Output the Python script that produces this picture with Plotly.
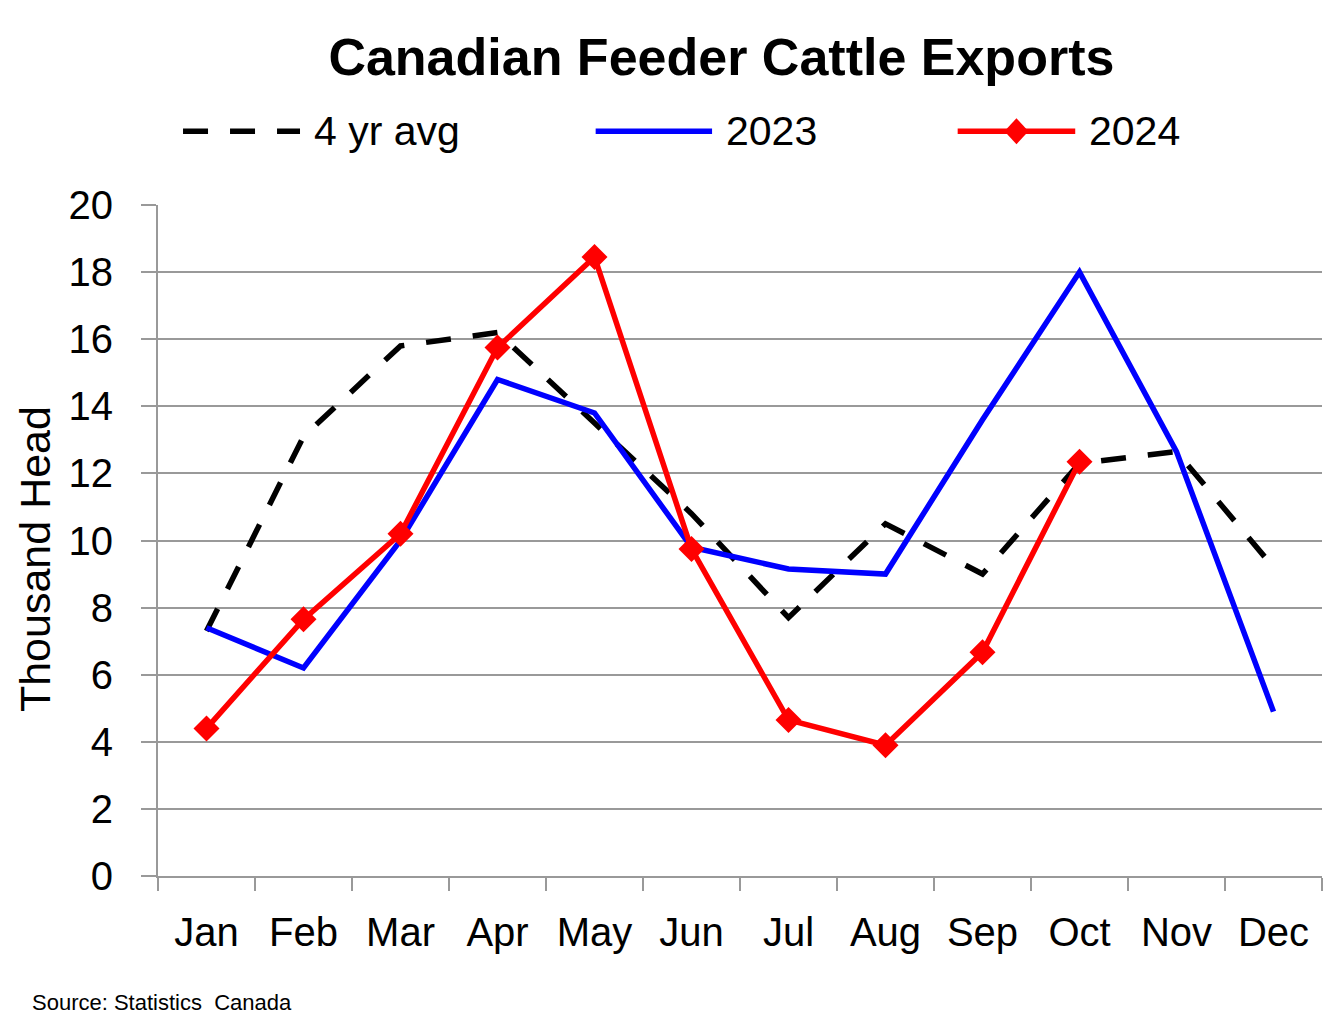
import plotly.graph_objects as go

months = ["Jan", "Feb", "Mar", "Apr", "May", "Jun", "Jul", "Aug", "Sep", "Oct", "Nov", "Dec"]
avg_4yr = [7.3, 13.1, 15.8, 16.2, 13.5, 10.8, 7.7, 10.5, 9.0, 12.3, 12.65, 9.2]
y2023 = [7.4, 6.2, 10.0, 14.8, 13.8, 9.8, 9.15, 9.0, 13.6, 18.0, 12.65, 4.9]
y2024 = [4.4, 7.65, 10.2, 15.75, 18.45, 9.75, 4.65, 3.9, 6.67, 12.35, None, None]

FONT = "Liberation Sans, Arial, sans-serif"
GRID = "#999999"
DASH = "25px,22px"

fig = go.Figure()
fig.add_trace(go.Scatter(x=months, y=avg_4yr, mode="lines", name="4 yr avg",
                         line=dict(color="black", width=5.5, dash=DASH)))
fig.add_trace(go.Scatter(x=months, y=y2023, mode="lines", name="2023",
                         line=dict(color="#0000ff", width=5.5)))
fig.add_trace(go.Scatter(x=months, y=y2024, mode="lines+markers", name="2024",
                         line=dict(color="#ff0000", width=5.5),
                         marker=dict(symbol="diamond", size=20, color="#ff0000")))

# hand-built legend with long line samples, like the source chart
leg_y = 1.11
legend_items = [
    ("4 yr avg", 0.0215, 0.122, dict(color="black", width=5.5, dash=DASH)),
    ("2023", 0.376, 0.476, dict(color="#0000ff", width=5.5)),
    ("2024", 0.687, 0.788, dict(color="#ff0000", width=5.5)),
]
for label, x0, x1, ln in legend_items:
    fig.add_shape(type="line", xref="paper", yref="paper", x0=x0, x1=x1,
                  y0=leg_y, y1=leg_y, line=ln)
    fig.add_annotation(text=label, xref="paper", yref="paper", x=x1 + 0.01, y=leg_y,
                       xanchor="left", yanchor="middle", showarrow=False,
                       font=dict(size=41, color="black", family=FONT))
# diamond on the 2024 legend sample
fig.add_shape(type="path", xref="paper", yref="paper", xsizemode="pixel", ysizemode="pixel",
              xanchor=0.7375, yanchor=leg_y, path="M 0 -13 L 12 0 L 0 13 L -12 0 Z",
              fillcolor="#ff0000", line=dict(width=0))

fig.add_annotation(text="Thousand Head", xref="paper", yref="paper", x=-0.105, y=0.472,
                   textangle=-90, showarrow=False, xanchor="center", yanchor="middle",
                   font=dict(size=43, color="black", family=FONT))
fig.add_annotation(text="Source: Statistics  Canada", xref="paper", yref="paper",
                   x=-0.110, y=-0.189, xanchor="left", yanchor="middle", showarrow=False,
                   font=dict(size=22, color="black", family=FONT))

# page body has an 8px margin, so the figure is a bit smaller than the window
fig.update_layout(
    width=1327, height=1011,
    margin=dict(l=150, r=13, t=197, b=143),
    paper_bgcolor="white", plot_bgcolor="white",
    showlegend=False,
    font=dict(family=FONT, color="black"),
    title=dict(text="<b>Canadian Feeder Cattle Exports</b>", x=0.484, xref="paper",
               xanchor="center", y=0.952, yanchor="middle",
               font=dict(size=52, color="black", family=FONT)),
)
fig.update_xaxes(
    type="category", range=[-0.5, 11.5], tickson="boundaries",
    showline=True, linecolor=GRID, linewidth=2,
    ticks="outside", ticklen=13, tickwidth=2, tickcolor=GRID,
    showgrid=False, tickfont=dict(size=40, color="black"), ticklabelstandoff=20,
)
fig.update_yaxes(
    range=[0, 20], dtick=2, showline=True, linecolor=GRID, linewidth=2,
    ticks="outside", ticklen=15, tickwidth=2, tickcolor=GRID,
    showgrid=True, gridcolor=GRID, gridwidth=2, zeroline=False,
    tickfont=dict(size=40, color="black"), ticklabelstandoff=20,
)

fig.write_html("out.html")
